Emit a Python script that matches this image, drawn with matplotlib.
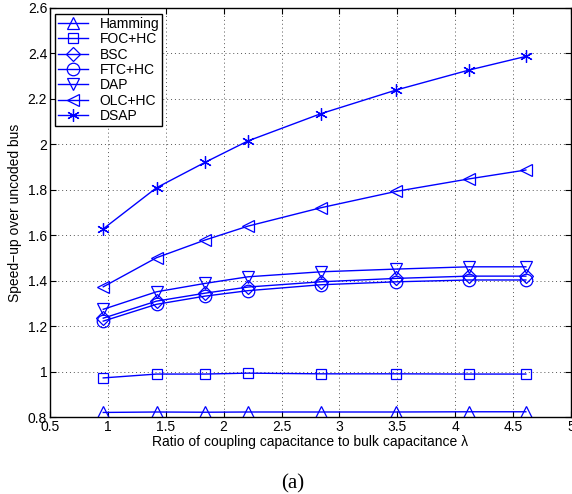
import matplotlib
matplotlib.use("Agg")
import matplotlib.pyplot as plt

x = [0.96, 1.42, 1.84, 2.21, 2.84, 3.49, 4.12, 4.61]
hamming = [0.820, 0.822, 0.821, 0.822, 0.822, 0.822, 0.823, 0.823]
foc_hc = [0.972, 0.989, 0.989, 0.993, 0.990, 0.990, 0.989, 0.989]
bsc = [1.235, 1.310, 1.345, 1.372, 1.395, 1.410, 1.420, 1.420]
ftc_hc = [1.222, 1.296, 1.332, 1.356, 1.382, 1.395, 1.403, 1.403]
dap = [1.274, 1.351, 1.388, 1.417, 1.439, 1.451, 1.461, 1.461]
olc_hc = [1.373, 1.501, 1.579, 1.640, 1.721, 1.793, 1.848, 1.887]
dsap = [1.628, 1.809, 1.921, 2.015, 2.135, 2.239, 2.327, 2.387]

series = [
    ("Hamming", hamming, "^", 9),
    ("FOC+HC", foc_hc, "s", 7),
    ("BSC", bsc, "D", 7),
    ("FTC+HC", ftc_hc, "o", 9),
    ("DAP", dap, "v", 9),
    ("OLC+HC", olc_hc, "<", 9),
    ("DSAP", dsap, (6, 2, 0), 9),
]

plt.rcParams['font.family'] = ['Liberation Sans', 'DejaVu Sans']
fig = plt.figure(figsize=(5.72, 4.94), dpi=100)
ax = fig.add_axes([50/572, 77/494, 521/572, 409/494])

for name, vals, m, ms in series:
    ax.plot(x, vals, color='#0000ff', lw=1.0, marker=m, ms=ms,
            mfc='none', mec='#0000ff', mew=0.9, label=name)

ax.set_xlim(0.5, 5)
ax.set_ylim(0.8, 2.6)
ax.set_xticks([0.5, 1, 1.5, 2, 2.5, 3, 3.5, 4, 4.5, 5])
ax.set_xticklabels(["0.5", "1", "1.5", "2", "2.5", "3", "3.5", "4", "4.5", "5"])
ax.set_yticks([0.8, 1, 1.2, 1.4, 1.6, 1.8, 2, 2.2, 2.4, 2.6])
ax.set_yticklabels(["0.8", "1", "1.2", "1.4", "1.6", "1.8", "2", "2.2", "2.4", "2.6"])
ax.grid(True, linestyle=(0, (1, 3)), color='#555555', lw=0.7)
ax.tick_params(direction='in', top=True, right=True, labelsize=10, length=4, pad=2)
for s in ax.spines.values():
    s.set_linewidth(1.0)

ax.set_xlabel("Ratio of coupling capacitance to bulk capacitance λ", fontsize=10, labelpad=1)
ax.set_ylabel("Speed−up over uncoded bus", fontsize=10, labelpad=4)

leg = ax.legend(loc='upper left', bbox_to_anchor=(5/521, 1 - 6/409), fontsize=10,
                frameon=True, fancybox=False, edgecolor='black', framealpha=1,
                handlelength=2.2, handletextpad=0.8, borderpad=0.2, labelspacing=0.1,
                borderaxespad=0)
leg.get_frame().set_linewidth(1.0)

fig.text(293/572, 1 - 484/494, "(a)", fontsize=15, ha='center', va='center',
         family=['Liberation Serif', 'DejaVu Serif'])

fig.savefig("out.png", dpi=100)
